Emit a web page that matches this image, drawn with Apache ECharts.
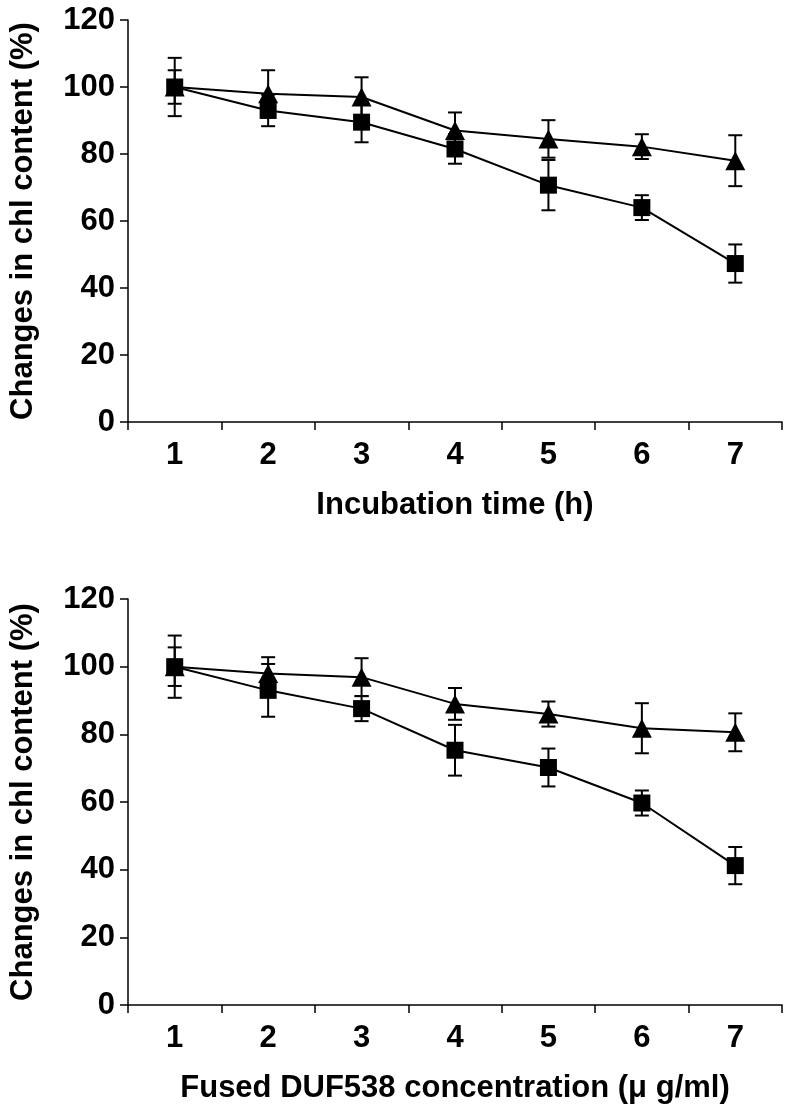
<!DOCTYPE html>
<html>
<head>
<meta charset="utf-8">
<script src="https://cdn.jsdelivr.net/npm/echarts@6/dist/echarts.min.js"></script>
<style>
  html, body { margin: 0; padding: 0; background: #fff; }
  #chart { width: 786px; height: 1109px; }
</style>
</head>
<body>
<div id="chart"></div>
<script>
// x categories, same for both panels
var categories = ['1', '2', '3', '4', '5', '6', '7'];

// top panel - incubation time
var timeTriangle    = [100, 98, 97, 87, 84.5, 82.2, 78];
var timeTriangleErr = [5, 7, 5.9, 5.4, 5.6, 3.7, 7.6];
var timeSquare      = [100, 93, 89.5, 81.5, 70.7, 64, 47.3];
var timeSquareErr   = [8.7, 4.7, 6, 4.4, 7.5, 3.7, 5.7];

// bottom panel - fused DUF538 concentration
var concTriangle    = [100, 98, 96.9, 89, 86, 81.8, 80.6];
var concTriangleErr = [5.7, 4.8, 5.6, 4.7, 3.7, 7.4, 5.6];
var concSquare      = [100, 93, 87.6, 75.3, 70.2, 59.7, 41.2];
var concSquareErr   = [9.2, 7.8, 3.7, 7.5, 5.6, 3.7, 5.5];

var FONT = '"Liberation Sans", Arial, Helvetica, sans-serif';
var black = '#000';

function errorBars(idx, vals, errs) {
  return {
    type: 'custom',
    xAxisIndex: idx,
    yAxisIndex: idx,
    z: 1,
    silent: true,
    data: vals.map(function (v, i) { return [i, v - errs[i], v + errs[i]]; }),
    encode: { x: 0, y: [1, 2] },
    renderItem: function (params, api) {
      var lo = api.coord([api.value(0), api.value(1)]);
      var hi = api.coord([api.value(0), api.value(2)]);
      var w = 7;
      var st = { stroke: black, lineWidth: 2 };
      return {
        type: 'group',
        children: [
          { type: 'line', shape: { x1: hi[0], y1: hi[1], x2: lo[0], y2: lo[1] }, style: st },
          { type: 'line', shape: { x1: hi[0] - w, y1: hi[1], x2: hi[0] + w, y2: hi[1] }, style: st },
          { type: 'line', shape: { x1: lo[0] - w, y1: lo[1], x2: lo[0] + w, y2: lo[1] }, style: st }
        ]
      };
    }
  };
}

function line(idx, vals, symbol, size) {
  return {
    type: 'line',
    xAxisIndex: idx,
    yAxisIndex: idx,
    z: 3,
    data: vals,
    symbol: symbol,
    symbolSize: size,
    itemStyle: { color: black },
    lineStyle: { color: black, width: 2 }
  };
}

function xAxis(idx, name) {
  return {
    type: 'category',
    gridIndex: idx,
    data: categories,
    boundaryGap: true,
    axisLine: { lineStyle: { color: black, width: 1.5 } },
    axisTick: { show: true, length: 8, lineStyle: { color: black, width: 1.5 } },
    axisLabel: { color: black, fontFamily: FONT, fontWeight: 'bold', fontSize: 31, margin: 18 },
    name: name,
    nameLocation: 'middle',
    nameGap: 68,
    nameTextStyle: { color: black, fontFamily: FONT, fontWeight: 'bold', fontSize: 31 }
  };
}

function yAxis(idx) {
  return {
    type: 'value',
    gridIndex: idx,
    min: 0,
    max: 120,
    interval: 20,
    axisLine: { show: true, lineStyle: { color: black, width: 1.5 } },
    axisTick: { show: true, length: 8, lineStyle: { color: black, width: 1.5 } },
    splitLine: { show: false },
    axisLabel: { color: black, fontFamily: FONT, fontWeight: 'bold', fontSize: 31, margin: 13 },
    name: 'Changes in chl content (%)',
    nameLocation: 'middle',
    nameGap: 89,
    nameTextStyle: { color: black, fontFamily: FONT, fontWeight: 'bold', fontSize: 31 }
  };
}

var chart = echarts.init(document.getElementById('chart'));
chart.setOption({
  animation: false,
  backgroundColor: '#fff',
  grid: [
    { left: 125, right: 4, top: 20, height: 402 },
    { left: 127, right: 4, top: 599, height: 406 }
  ],
  xAxis: [xAxis(0, 'Incubation time (h)'), xAxis(1, 'Fused DUF538 concentration (\u03bc g/ml)')],
  yAxis: [yAxis(0), yAxis(1)],
  series: [
    errorBars(0, timeTriangle, timeTriangleErr),
    errorBars(0, timeSquare, timeSquareErr),
    line(0, timeTriangle, 'triangle', [20, 19]),
    line(0, timeSquare, 'rect', 17),
    errorBars(1, concTriangle, concTriangleErr),
    errorBars(1, concSquare, concSquareErr),
    line(1, concTriangle, 'triangle', [20, 19]),
    line(1, concSquare, 'rect', 17)
  ]
});
</script>
</body>
</html>
